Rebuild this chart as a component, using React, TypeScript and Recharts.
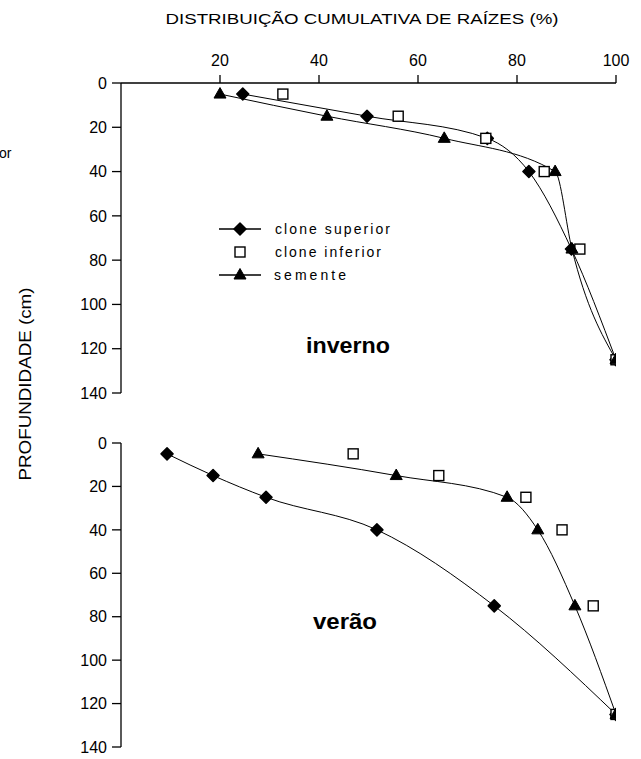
import React from "react";
import { LineChart, Line, XAxis, YAxis } from "recharts";

const depths = [5, 15, 25, 40, 75, 125];
const xTicks = [20, 40, 60, 80, 100];
const yTicks = [0, 20, 40, 60, 80, 100, 120, 140];

const invernoCloneSuperior = [24.6, 49.7, 74, 82.4, 91, 100];
const invernoCloneInferior = [32.7, 56, 73.7, 85.5, 92.7, 100];
const invernoSemente = [20, 41.6, 65.3, 87.7, 91.1, 100];

const veraoCloneSuperior = [9.3, 18.6, 29.3, 51.7, 75.4, 100];
const veraoCloneInferior = [46.9, 64.2, 81.8, 89.1, 95.4, 100];
const veraoSemente = [27.7, 55.6, 78, 84.2, 91.7, 100];

const seriesNames = ["clone superior", "clone inferior", "semente"];

const toPoints = (vals: number[]) => vals.map((v, i) => ({ x: v, y: depths[i] }));

const FONT = "'Liberation Sans', Arial, sans-serif";

const Diamond = (props: any) => {
  const { cx, cy, index } = props;
  if (cx == null || cy == null) return <g key={index} />;
  const r = 6;
  return (
    <path
      key={`d-${index}`}
      d={`M${cx},${cy - r} L${cx + r},${cy} L${cx},${cy + r} L${cx - r},${cy} Z`}
      fill="#000"
      stroke="#000"
      strokeWidth={1.5}
      strokeLinejoin="round"
    />
  );
};

const Square = (props: any) => {
  const { cx, cy, index } = props;
  if (cx == null || cy == null) return <g key={index} />;
  const s = 5;
  return (
    <rect
      key={`s-${index}`}
      x={cx - s}
      y={cy - s}
      width={s * 2}
      height={s * 2}
      fill="#fff"
      stroke="#000"
      strokeWidth={1.4}
    />
  );
};

const Triangle = (props: any) => {
  const { cx, cy, index } = props;
  if (cx == null || cy == null) return <g key={index} />;
  return (
    <path
      key={`t-${index}`}
      d={`M${cx},${cy - 6.5} L${cx + 6},${cy + 4} L${cx - 6},${cy + 4} Z`}
      fill="#000"
      stroke="#000"
      strokeWidth={1}
    />
  );
};

const tickStyle = { fill: "#000", fontSize: 16, fontFamily: FONT };

function Panel({
  top,
  height,
  showX,
  sup,
  inf,
  sem,
  margin,
}: {
  top: number;
  height: number;
  showX: boolean;
  sup: number[];
  inf: number[];
  sem: number[];
  margin: { top: number; right: number; bottom: number; left: number };
}) {
  return (
    <div style={{ position: "absolute", left: 0, top, width: 641, height }}>
      <LineChart width={641} height={height} margin={margin}>
        <XAxis
          type="number"
          dataKey="x"
          domain={[0, 100]}
          ticks={xTicks}
          orientation="top"
          hide={!showX}
          height={40}
          tickSize={8}
          tickMargin={9}
          stroke="#000"
          tick={tickStyle}
          axisLine={{ stroke: "#000", strokeWidth: 1.3 }}
          tickLine={{ stroke: "#000", strokeWidth: 1.3 }}
          allowDataOverflow
        />
        <YAxis
          type="number"
          dataKey="y"
          domain={[0, 140]}
          ticks={yTicks}
          reversed
          width={60}
          tickSize={9}
          tickMargin={5}
          stroke="#000"
          tick={tickStyle}
          axisLine={{ stroke: "#000", strokeWidth: 1.3 }}
          tickLine={{ stroke: "#000", strokeWidth: 1.3 }}
          interval={0}
        />
        <Line
          data={toPoints(sup)}
          dataKey="y"
          name={seriesNames[0]}
          type="monotone"
          stroke="#000"
          strokeWidth={1}
          dot={Diamond}
          isAnimationActive={false}
        />
        <Line
          data={toPoints(inf)}
          dataKey="y"
          name={seriesNames[1]}
          type="monotone"
          stroke="none"
          dot={Square}
          isAnimationActive={false}
        />
        <Line
          data={toPoints(sem)}
          dataKey="y"
          name={seriesNames[2]}
          type="monotone"
          stroke="#000"
          strokeWidth={1}
          dot={Triangle}
          isAnimationActive={false}
        />
      </LineChart>
    </div>
  );
}

function Overlay() {
  return (
    <svg
      width={641}
      height={759}
      style={{ position: "absolute", left: 0, top: 0, pointerEvents: "none" }}
    >
      <text
        x={362}
        y={24}
        textAnchor="middle"
        fontFamily={FONT}
        fontSize={15}
        textLength={393}
        lengthAdjust="spacingAndGlyphs"
        fill="#000"
      >
        DISTRIBUIÇÃO CUMULATIVA DE RAÍZES (%)
      </text>
      <text
        transform="translate(31,384) rotate(-90)"
        textAnchor="middle"
        fontFamily={FONT}
        fontSize={16}
        textLength={193}
        lengthAdjust="spacingAndGlyphs"
        fill="#000"
      >
        PROFUNDIDADE (cm)
      </text>
      <text x={-1} y={158} fontFamily={FONT} fontSize={14} fill="#000">
        or
      </text>
      {/* legend */}
      <g>
        <line x1={219} y1={229} x2={261} y2={229} stroke="#000" strokeWidth={1.3} />
        <Diamond cx={240} cy={229} index={100} />
        <text x={275} y={234} fontFamily={FONT} fontSize={14} textLength={115} lengthAdjust="spacing" fill="#000">
          {seriesNames[0]}
        </text>
        <Square cx={240} cy={252} index={101} />
        <text x={275} y={257} fontFamily={FONT} fontSize={14} textLength={106} lengthAdjust="spacing" fill="#000">
          {seriesNames[1]}
        </text>
        <line x1={219} y1={275} x2={261} y2={275} stroke="#000" strokeWidth={1.3} />
        <Triangle cx={240} cy={275} index={102} />
        <text x={274} y={280} fontFamily={FONT} fontSize={14} textLength={72} lengthAdjust="spacing" fill="#000">
          {seriesNames[2]}
        </text>
      </g>
      <text x={306} y={353} fontFamily={FONT} fontSize={22} fontWeight="bold" textLength={84} lengthAdjust="spacingAndGlyphs" fill="#000">
        inverno
      </text>
      <text x={313} y={629} fontFamily={FONT} fontSize={22} fontWeight="bold" textLength={64} lengthAdjust="spacingAndGlyphs" fill="#000">
        verão
      </text>
    </svg>
  );
}

export default function App() {
  return (
    <div
      style={{
        position: "absolute",
        left: 0,
        top: 0,
        width: 641,
        height: 759,
        background: "#fff",
        fontFamily: FONT,
        overflow: "hidden",
      }}
    >
      <Panel
        top={0}
        height={420}
        showX
        sup={invernoCloneSuperior}
        inf={invernoCloneInferior}
        sem={invernoSemente}
        margin={{ top: 43, right: 25, bottom: 27, left: 61 }}
      />
      <Panel
        top={400}
        height={359}
        showX={false}
        sup={veraoCloneSuperior}
        inf={veraoCloneInferior}
        sem={veraoSemente}
        margin={{ top: 43, right: 25, bottom: 12, left: 61 }}
      />
      <Overlay />
    </div>
  );
}
